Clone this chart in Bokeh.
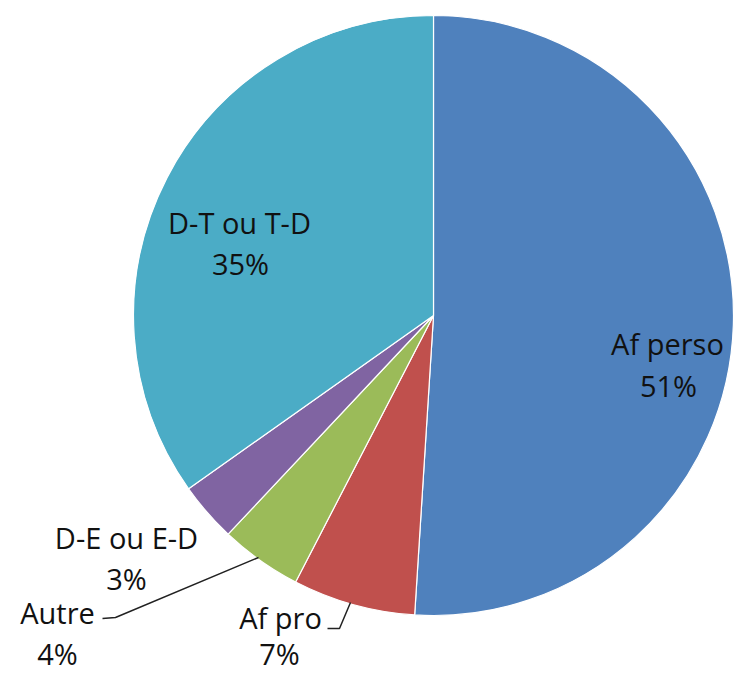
import numpy as np
from bokeh.plotting import figure
from bokeh.models import Range1d
from bokeh.core.properties import value
from bokeh.embed import file_html
from bokeh.resources import INLINE

categories = ["Af perso", "Af pro", "Autre", "D-E ou E-D", "D-T ou T-D"]
shares = [51.0, 6.6, 4.4, 3.2, 34.8]
colors = ["#4F81BD", "#C0504D", "#9BBB59", "#8064A2", "#4BACC6"]

W, H = 737, 674
p = figure(width=W, height=H, x_range=Range1d(0, W), y_range=Range1d(0, H),
           output_backend="svg", toolbar_location=None, min_border=0)
p.axis.visible = False
p.grid.visible = False
p.outline_line_color = None
p.background_fill_color = "white"


def px(x, y):
    return x, H - y


cx, cy = px(433, 315)
R = 300
total = sum(shares)
cum = np.cumsum([0] + shares)
start = np.pi / 2 - 2 * np.pi * cum[:-1] / total
end = np.pi / 2 - 2 * np.pi * cum[1:] / total

p.wedge(x=cx, y=cy, radius=R, start_angle=list(end), end_angle=list(start),
        fill_color=colors, line_color="white", line_width=1.2)

# label positions (pixel coords in the page): (name center), (pct center)
label_pos = {
    "Af perso": ((667, 343), (668, 385)),
    "Af pro": ((280, 617), (279, 653)),
    "Autre": ((57, 612), (57, 653)),
    "D-E ou E-D": ((126, 537), (126, 578)),
    "D-T ou T-D": ((239, 222), (240, 263)),
}

xs, ys, texts = [], [], []
for c, s in zip(categories, shares):
    (a, b) = label_pos[c]
    x1, y1 = px(*a)
    x2, y2 = px(*b)
    xs += [x1, x2]
    ys += [y1, y2]
    texts += [c, f"{round(s)}%"]

p.text(x=xs, y=ys, text=texts, text_align="center", text_baseline="middle",
       text_font=value("Open Sans"), text_font_size="29px", text_color="#111111")

# leader lines
autre_line = [px(102, 618), px(115, 617), px(258, 557)]
afpro_line = [px(327, 628), px(339, 628), px(350, 602)]
p.multi_line(xs=[[q[0] for q in autre_line], [q[0] for q in afpro_line]],
             ys=[[q[1] for q in autre_line], [q[1] for q in afpro_line]],
             line_color="#222222", line_width=1.5)

open("out.html", "w").write(file_html(p, INLINE))
